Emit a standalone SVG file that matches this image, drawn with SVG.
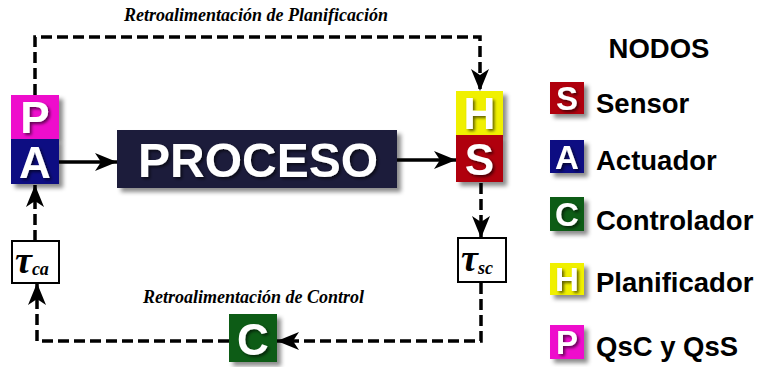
<svg xmlns="http://www.w3.org/2000/svg" width="758" height="367" viewBox="0 0 758 367">
<style>
.cn{stroke:#000;stroke-width:3.5;fill:none}
.da{stroke-dasharray:11 5}
.big{font-family:"Liberation Sans",Arial,sans-serif;font-weight:bold;fill:#fff;text-anchor:middle}
.leg{font-family:"Liberation Sans",Arial,sans-serif;font-weight:bold;font-size:27.5px;fill:#000}
.ti{font-family:"Liberation Serif","Times New Roman",serif;font-style:italic;font-weight:bold;font-size:18px;fill:#000}
.tau{font-family:"Liberation Serif","Times New Roman",serif;font-style:italic;font-weight:bold;fill:#000}
.tb{fill:#fff;stroke:#000;stroke-width:2}
</style>
<defs>
<filter id="sh" x="-20%" y="-20%" width="150%" height="150%">
<feDropShadow dx="4" dy="4" stdDeviation="2" flood-color="#000" flood-opacity="0.45"/>
</filter>
<filter id="ts" x="-20%" y="-20%" width="150%" height="150%">
<feDropShadow dx="2" dy="2" stdDeviation="1.5" flood-color="#000" flood-opacity="0.6"/>
</filter>
<marker id="ah" viewBox="0 0 22 18" refX="22" refY="9" markerWidth="22" markerHeight="18" markerUnits="userSpaceOnUse" orient="auto">
<path d="M0,0 L22,9 L0,18 L6,9 Z" fill="#000"/>
</marker>
</defs>

<g id="connectors">
<path class="cn" d="M59,162 H117" marker-end="url(#ah)"/>
<path class="cn" d="M397,160 H456" marker-end="url(#ah)"/>
<path class="cn da" d="M35,95 V37 H480 V91" marker-end="url(#ah)"/>
<path class="cn da" d="M481,183 V238" marker-end="url(#ah)"/>
<path class="cn da" d="M481,283 V341 H277" marker-end="url(#ah)"/>
<path class="cn da" d="M229,341 H37 V283" marker-end="url(#ah)"/>
<path class="cn da" d="M35,241 V185" marker-end="url(#ah)"/>
</g>

<g id="title-plan"><text class="ti" x="124" y="21">Retroalimentación de Planificación</text></g>
<g id="title-control"><text class="ti" x="143" y="303">Retroalimentación de Control</text></g>

<g id="node-P">
<rect x="11" y="95" width="48" height="44" fill="#ee11cc" filter="url(#sh)"/>
<text class="big" x="35" y="133" font-size="44" filter="url(#ts)">P</text>
</g>
<g id="node-A">
<rect x="11" y="139" width="48" height="45" fill="#0a0a82" filter="url(#sh)"/>
<text class="big" x="35" y="178" font-size="44" filter="url(#ts)">A</text>
</g>
<g id="node-proceso">
<rect x="117" y="130" width="280" height="58" fill="#1e1e3a" filter="url(#sh)"/>
<text class="big" x="258" y="177" font-size="48" filter="url(#ts)">PROCESO</text>
</g>
<g id="node-H">
<rect x="456" y="91" width="47" height="44" fill="#f0f000" filter="url(#sh)"/>
<text class="big" x="479.5" y="129" font-size="44" filter="url(#ts)">H</text>
</g>
<g id="node-S">
<rect x="456" y="135" width="47" height="47" fill="#b00008" filter="url(#sh)"/>
<text class="big" x="479.5" y="175" font-size="44" filter="url(#ts)">S</text>
</g>
<g id="node-tca">
<rect class="tb" x="12" y="241" width="47" height="42"/>
<text class="tau" x="15" y="273" font-size="38">τ<tspan font-size="18" dy="2">ca</tspan></text>
</g>
<g id="node-tsc">
<rect class="tb" x="458" y="238" width="48" height="44"/>
<text class="tau" x="461" y="271" font-size="38">τ<tspan font-size="18" dy="3">sc</tspan></text>
</g>
<g id="node-C">
<rect x="229" y="314" width="48" height="48" fill="#0b5c12" filter="url(#sh)"/>
<text class="big" x="253" y="355" font-size="44" filter="url(#ts)">C</text>
</g>

<g id="legend">
<text class="leg" x="659" y="58" text-anchor="middle">NODOS</text>
<rect x="550" y="82" width="34" height="32" fill="#b00008" filter="url(#sh)"/>
<text class="big" x="567" y="110" font-size="33" filter="url(#ts)">S</text>
<text class="leg" x="596" y="113">Sensor</text>
<rect x="550" y="140" width="34" height="33" fill="#0a0a82" filter="url(#sh)"/>
<text class="big" x="567" y="169" font-size="33" filter="url(#ts)">A</text>
<text class="leg" x="596" y="170">Actuador</text>
<rect x="550" y="197" width="34" height="34" fill="#0b5c12" filter="url(#sh)"/>
<text class="big" x="567" y="226" font-size="33" filter="url(#ts)">C</text>
<text class="leg" x="596" y="230">Controlador</text>
<rect x="550" y="263" width="34" height="32" fill="#f0f000" filter="url(#sh)"/>
<text class="big" x="567" y="291" font-size="33" filter="url(#ts)">H</text>
<text class="leg" x="596" y="292">Planificador</text>
<rect x="550" y="325" width="34" height="34" fill="#ee11cc" filter="url(#sh)"/>
<text class="big" x="567" y="354" font-size="33" filter="url(#ts)">P</text>
<text class="leg" x="596" y="356">QsC y QsS</text>
</g>
</svg>
